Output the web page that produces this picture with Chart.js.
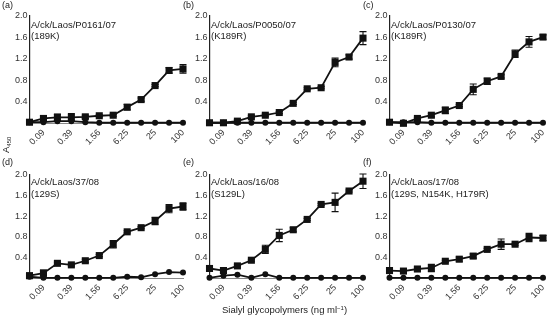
<!DOCTYPE html>
<html>
<head>
<meta charset="utf-8">
<script src="https://cdn.jsdelivr.net/npm/chart.js@4.4.1/dist/chart.umd.min.js"></script>
<style>
  html, body { margin: 0; padding: 0; background: #fff; }
  #fig { position: relative; width: 548px; height: 315px; overflow: hidden;
         font-family: "Liberation Sans", Arial, sans-serif; color: #222; }
  .panel { position: absolute; }
  .txt { position: absolute; font-size: 9.5px; line-height: 11px; white-space: nowrap; }
  #ylab { position: absolute; left: 1px; top: 153px; font-size: 9.5px; line-height: 10px;
          white-space: nowrap; transform: rotate(-90deg); transform-origin: left top; }
</style>
</head>
<body>
<div id="fig"></div>
<script>
// =====================
// data
// =====================
const concentrations = ["0.05", "0.09", "0.19", "0.39", "0.78", "1.56", "3.13", "6.25", "12.5", "25", "50", "100"];
const xTickLabels = ["", "0.09", "", "0.39", "", "1.56", "", "6.25", "", "25", "", "100"];
const yTickValues = [0.4, 0.8, 1.2, 1.6, 2.0];

const panelLetters = ["(a)", "(b)", "(c)", "(d)", "(e)", "(f)"];
const strains = ["A/ck/Laos/P0161/07", "A/ck/Laos/P0050/07", "A/ck/Laos/P0130/07",
                 "A/ck/Laos/37/08", "A/ck/Laos/16/08", "A/ck/Laos/17/08"];
const mutations = ["(189K)", "(K189R)", "(K189R)", "(129S)", "(S129L)", "(129S, N154K, H179R)"];

// squares (mean) + error, circles
const squaresA = [0.02, 0.09, 0.11, 0.11, 0.12, 0.14, 0.15, 0.30, 0.44, 0.70, 0.98, 1.01];
const errorsA  = [0.02, 0.05, 0.06, 0.07, 0.03, 0.02, 0.02, 0.05, 0.03, 0.02, 0.05, 0.08];
const circlesA = [0.02, 0.02, 0.04, 0.04, 0.02, 0.01, 0.01, 0.01, 0.01, 0.01, 0.01, 0.01];

const squaresB = [0.01, 0.01, 0.04, 0.12, 0.15, 0.20, 0.37, 0.64, 0.66, 1.13, 1.23, 1.58];
const errorsB  = [0.01, 0.01, 0.03, 0.02, 0.02, 0.02, 0.02, 0.02, 0.02, 0.08, 0.04, 0.12];
const circlesB = [0.01, 0.01, 0.01, 0.01, 0.01, 0.01, 0.01, 0.01, 0.01, 0.01, 0.01, 0.01];

const squaresC = [0.02, 0.00, 0.09, 0.15, 0.24, 0.33, 0.63, 0.78, 0.87, 1.29, 1.51, 1.60];
const errorsC  = [0.02, 0.01, 0.02, 0.03, 0.06, 0.02, 0.10, 0.06, 0.03, 0.07, 0.10, 0.04];
const circlesC = [0.02, 0.02, 0.02, 0.01, 0.01, 0.01, 0.01, 0.01, 0.01, 0.01, 0.01, 0.01];

const squaresD = [0.05, 0.10, 0.29, 0.26, 0.34, 0.44, 0.66, 0.90, 0.98, 1.11, 1.35, 1.39];
const errorsD  = [0.05, 0.06, 0.02, 0.02, 0.03, 0.02, 0.07, 0.02, 0.02, 0.07, 0.08, 0.07];
const circlesD = [0.03, 0.01, 0.01, 0.01, 0.01, 0.01, 0.01, 0.03, 0.02, 0.08, 0.12, 0.11];

const squaresE = [0.19, 0.15, 0.24, 0.35, 0.56, 0.83, 0.94, 1.14, 1.43, 1.47, 1.69, 1.88];
const errorsE  = [0.02, 0.03, 0.02, 0.02, 0.08, 0.12, 0.04, 0.02, 0.02, 0.18, 0.02, 0.14];
const circlesE = [0.01, 0.05, 0.07, 0.01, 0.08, 0.01, 0.01, 0.01, 0.01, 0.01, 0.01, 0.01];

const squaresF = [0.15, 0.14, 0.18, 0.20, 0.33, 0.37, 0.43, 0.56, 0.66, 0.66, 0.79, 0.78];
const errorsF  = [0.04, 0.03, 0.04, 0.07, 0.02, 0.04, 0.04, 0.02, 0.10, 0.02, 0.08, 0.05];
const circlesF = [0.01, 0.01, 0.01, 0.01, 0.01, 0.01, 0.01, 0.01, 0.01, 0.01, 0.01, 0.01];

const squareSeries = [squaresA, squaresB, squaresC, squaresD, squaresE, squaresF];
const errorSeries  = [errorsA, errorsB, errorsC, errorsD, errorsE, errorsF];
const circleSeries = [circlesA, circlesB, circlesC, circlesD, circlesE, circlesF];

// =====================
// layout
// =====================
const colLeft = [0, 180, 360];
const rows = [
  { top: 0,   height: 150, areaTop: 15.5, areaBottom: 123.3, letterTop: 0,   textTop: 19 },
  { top: 155, height: 160, areaTop: 20,   areaBottom: 123.3, letterTop: 157, textTop: 176 }
];
const PANEL_W = 188;
const AXIS_LEFT = 29.5;
const AREA_RIGHT = 183;

const fig = document.getElementById("fig");
const tickFont = { family: "'Liberation Sans', Arial, sans-serif", size: 9 };

// error bars drawn through the y scale
const errorBars = {
  id: "errorBars",
  beforeDatasetsDraw(chart) {
    const ctx = chart.ctx;
    const y = chart.scales.y;
    chart.data.datasets.forEach((ds, i) => {
      if (!ds.errors) return;
      const meta = chart.getDatasetMeta(i);
      meta.data.forEach((pt, j) => {
        const e = ds.errors[j];
        if (!e) return;
        const v = ds.data[j];
        const y1 = y.getPixelForValue(v + e);
        const y2 = y.getPixelForValue(Math.max(v - e, 0));
        ctx.save();
        ctx.strokeStyle = "#111";
        ctx.lineWidth = 1.1;
        ctx.beginPath();
        ctx.moveTo(pt.x, y1); ctx.lineTo(pt.x, y2);
        ctx.moveTo(pt.x - 3.5, y1); ctx.lineTo(pt.x + 3.5, y1);
        ctx.moveTo(pt.x - 3.5, y2); ctx.lineTo(pt.x + 3.5, y2);
        ctx.stroke();
        ctx.restore();
      });
    });
  }
};

function addText(html, left, top, size) {
  const d = document.createElement("div");
  d.className = "txt";
  d.innerHTML = html;
  d.style.left = left + "px";
  d.style.top = top + "px";
  if (size) d.style.fontSize = size + "px";
  fig.appendChild(d);
  return d;
}

function makePanel(k) {
  const row = rows[Math.floor(k / 3)];
  const left = colLeft[k % 3];

  const box = document.createElement("div");
  box.className = "panel";
  box.style.left = left + "px";
  box.style.top = row.top + "px";
  box.style.width = PANEL_W + "px";
  box.style.height = row.height + "px";
  const canvas = document.createElement("canvas");
  box.appendChild(canvas);
  fig.appendChild(box);

  new Chart(canvas, {
    type: "line",
    data: {
      labels: concentrations,
      datasets: [
        {
          data: circleSeries[k],
          borderColor: "#111", backgroundColor: "#111",
          borderWidth: 1.8, pointStyle: "circle", pointRadius: 3,
          pointBorderWidth: 0, tension: 0, clip: false
        },
        {
          data: squareSeries[k],
          errors: errorSeries[k],
          borderColor: "#111", backgroundColor: "#111",
          borderWidth: 1.8, pointStyle: "rect", pointRadius: 5,
          pointBorderWidth: 0, tension: 0, clip: false
        }
      ]
    },
    options: {
      responsive: true,
      maintainAspectRatio: false,
      animation: false,
      devicePixelRatio: 1,
      layout: { padding: { left: 0, right: PANEL_W - AREA_RIGHT, top: row.areaTop, bottom: 0 } },
      plugins: { legend: { display: false }, tooltip: { enabled: false } },
      scales: {
        x: {
          type: "category",
          offset: false,
          grid: { display: false, drawTicks: false },
          border: { display: true, color: "#888", width: 1 },
          ticks: {
            autoSkip: false, minRotation: 45, maxRotation: 45, padding: 4,
            color: "#333", font: tickFont,
            callback: (v, i) => xTickLabels[i]
          },
          afterFit(scale) {
            scale.height = row.height - row.areaBottom;
            scale.paddingLeft = 0; scale.paddingRight = 0;
          }
        },
        y: {
          min: 0, max: 2.0,
          grid: { display: false, drawTicks: false },
          border: { display: true, color: "#222", width: 1.2 },
          ticks: {
            padding: 2, color: "#333", font: tickFont,
            callback: v => v.toFixed(1)
          },
          afterBuildTicks(scale) {
            scale.ticks = yTickValues.map(v => ({ value: v }));
          },
          afterFit(scale) {
            scale.width = AXIS_LEFT;
            scale.paddingTop = 0; scale.paddingBottom = 0;
          }
        }
      }
    },
    plugins: [errorBars]
  });

  addText(panelLetters[k], left + (k % 3 === 0 ? 2 : 3), row.letterTop, 9);
  const t = addText(strains[k] + "<br>" + mutations[k], left + 31, row.textTop);
  if (row.top > 0) t.style.lineHeight = "11.5px";
}

for (let k = 0; k < 6; k++) makePanel(k);

// axis titles
const ylab = document.createElement("div");
ylab.id = "ylab";
ylab.innerHTML = "A<sub style=\"font-size:6px;vertical-align:-2px;\">450</sub>";
fig.appendChild(ylab);

addText("Sialyl glycopolymers (ng ml<sup style=\"font-size:6px;vertical-align:3px;\">−1</sup>)", 222, 303, 9.5);
</script>
</body>
</html>
